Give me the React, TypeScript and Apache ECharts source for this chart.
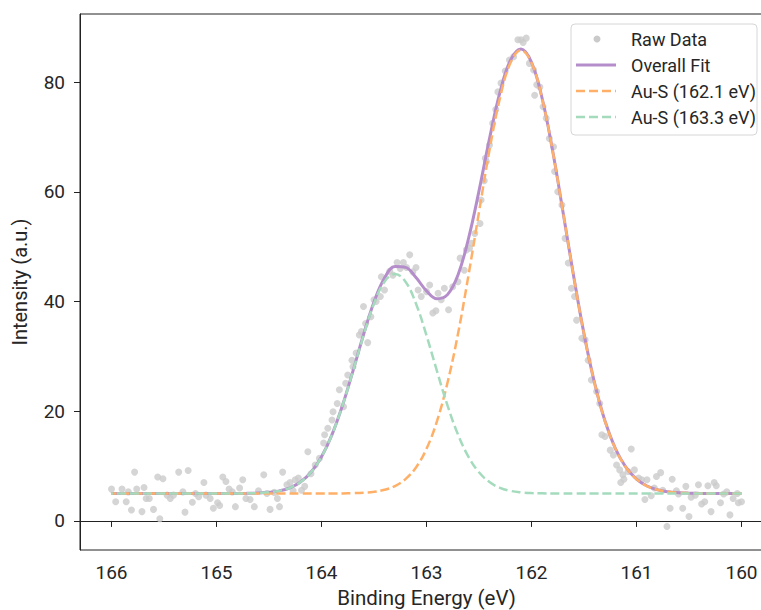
import React, { useEffect, useRef } from "react";
import * as echarts from "echarts";

// Raw XPS data (binding energy eV, intensity a.u.)
const rawE = [
  166.0, 165.96, 165.9, 165.86, 165.84, 165.81, 165.78, 165.76, 165.71, 165.69, 165.67, 165.64, 165.6, 165.56, 165.54,
  165.51, 165.47, 165.44, 165.41, 165.36, 165.32, 165.3, 165.27, 165.23, 165.2, 165.17, 165.12, 165.1, 165.06, 165.03,
  164.99, 164.97, 164.94, 164.91, 164.88, 164.85, 164.82, 164.78, 164.75, 164.72, 164.68, 164.64, 164.6, 164.55, 164.52,
  164.49, 164.45, 164.42, 164.4, 164.37, 164.33, 164.3, 164.27, 164.25, 164.22, 164.19, 164.16, 164.13, 164.1, 164.06,
  164.02, 163.98, 163.97, 163.94, 163.9, 163.89, 163.85, 163.83, 163.79, 163.77, 163.75, 163.71, 163.7, 163.67, 163.64,
  163.62, 163.6, 163.58, 163.56, 163.53, 163.5, 163.48, 163.44, 163.43, 163.4, 163.35, 163.32, 163.28, 163.25, 163.22,
  163.19, 163.16, 163.13, 163.1, 163.08, 163.05, 163.0, 162.97, 162.94, 162.91, 162.89, 162.86, 162.83, 162.79, 162.75,
  162.7, 162.68, 162.64, 162.62, 162.59, 162.57, 162.54, 162.49, 162.48, 162.45, 162.44, 162.43, 162.4, 162.37, 162.34,
  162.32, 162.29, 162.25, 162.21, 162.17, 162.13, 162.1, 162.08, 162.05, 162.02, 161.98, 161.97, 161.95, 161.92, 161.89,
  161.86, 161.83, 161.79, 161.78, 161.75, 161.71, 161.68, 161.65, 161.62, 161.59, 161.57, 161.52, 161.49, 161.46, 161.43,
  161.38, 161.35, 161.33, 161.3, 161.25, 161.22, 161.19, 161.16, 161.15, 161.13, 161.12, 161.08, 161.05, 161.02, 160.98,
  160.95, 160.92, 160.9, 160.86, 160.83, 160.81, 160.77, 160.75, 160.71, 160.68, 160.66, 160.62, 160.6, 160.56, 160.53,
  160.5, 160.48, 160.44, 160.41, 160.38, 160.35, 160.32, 160.29, 160.26, 160.24, 160.2, 160.17, 160.14, 160.11, 160.08,
  160.04, 160.03, 160.0,
];
const rawI = [
  5.8, 3.5, 5.8, 3.5, 5.3, 2.0, 8.9, 5.8, 1.7, 6.1, 4.1, 4.1, 2.1, 8.0, 0.4,
  7.7, 4.7, 4.1, 4.7, 8.9, 5.3, 1.6, 9.2, 3.4, 5.0, 4.4, 7.0, 4.7, 4.1, 2.3,
  3.3, 2.8, 8.0, 7.2, 5.8, 5.3, 2.6, 6.0, 7.5, 4.1, 3.9, 2.6, 5.5, 8.4, 5.0,
  2.1, 5.2, 4.1, 2.6, 8.9, 6.6, 7.0, 5.5, 7.5, 7.8, 5.6, 6.3, 12.6, 8.6, 10.2,
  11.4, 14.2, 15.7, 16.9, 18.4, 19.9, 21.4, 23.9, 20.8, 25.1, 26.6, 29.3, 28.1, 30.6, 33.9,
  34.5, 39.1, 36.0, 32.5, 37.2, 40.3, 40.0, 40.9, 44.5, 42.1, 45.5, 44.8, 47.1, 46.0, 47.1,
  46.2, 48.5, 45.4, 46.2, 42.1, 40.9, 41.8, 43.0, 37.9, 38.3, 41.5, 40.3, 42.4, 38.5, 42.7,
  43.6, 47.9, 45.7, 49.4, 49.7, 50.6, 52.4, 54.2, 58.5, 62.0, 66.1, 65.5, 68.5, 72.5, 75.0,
  78.2, 79.8, 82.0, 84.0, 84.6, 87.7, 87.7, 87.2, 88.0, 83.4, 82.2, 77.6, 79.5, 79.1, 75.5,
  73.4, 69.7, 68.2, 63.7, 60.0, 57.6, 51.5, 47.0, 42.4, 40.9, 36.6, 33.3, 33.0, 29.3, 25.7,
  23.6, 21.4, 15.7, 15.4, 12.9, 12.0, 10.2, 9.3, 7.0, 8.4, 7.6, 9.0, 13.1, 9.3, 7.8,
  7.5, 3.9, 7.5, 4.6, 6.0, 8.1, 8.8, 5.6, -1.0, 2.3, 7.6, 5.5, 4.9, 2.3, 6.3,
  0.8, 4.3, 4.7, 6.6, 3.1, 3.5, 6.4, 1.7, 7.0, 6.4, 3.3, 4.9, 5.3, 1.1, 4.1,
  5.0, 3.3, 3.5,
];

// Fit curves sampled every 0.1 eV from 160.0 to 166.0
const fitE = [
  160.0, 160.1, 160.2, 160.3, 160.4, 160.5, 160.6, 160.7, 160.8, 160.9,
  161.0, 161.1, 161.2, 161.3, 161.4, 161.5, 161.6, 161.7, 161.8, 161.9,
  162.0, 162.1, 162.2, 162.3, 162.4, 162.5, 162.6, 162.7, 162.8, 162.9,
  163.0, 163.1, 163.2, 163.3, 163.4, 163.5, 163.6, 163.7, 163.8, 163.9,
  164.0, 164.1, 164.2, 164.3, 164.4, 164.5, 164.6, 164.7, 164.8, 164.9,
  165.0, 165.1, 165.2, 165.3, 165.4, 165.5, 165.6, 165.7, 165.8, 165.9, 166.0,
];
const overallFit = [
  5.0, 5.0, 5.0, 5.0, 5.02, 5.06, 5.14, 5.31, 5.67, 6.36,
  7.62, 9.75, 13.14, 18.2, 25.2, 34.1, 44.8, 56.3, 67.6, 77.13,
  83.58, 86.01, 83.98, 78.14, 69.68, 60.16, 51.48, 44.84, 41.25, 40.5,
  41.94, 44.35, 46.22, 46.36, 44.27, 39.91, 33.94, 27.36, 21.07, 15.74,
  11.68, 8.86, 7.08, 6.04, 5.48, 5.21, 5.08, 5.03, 5.0, 5.0,
  5.0, 5.0, 5.0, 5.0, 5.0, 5.0, 5.0, 5.0, 5.0, 5.0, 5.0,
];
const peak1621 = [
  5.0, 5.0, 5.0, 5.0, 5.02, 5.06, 5.14, 5.31, 5.67, 6.36,
  7.62, 9.75, 13.14, 18.2, 25.2, 34.1, 44.8, 56.3, 67.6, 77.1,
  83.5, 85.8, 83.5, 77.1, 67.6, 56.3, 44.8, 34.1, 25.2, 18.2,
  13.14, 9.75, 7.62, 6.36, 5.67, 5.31, 5.14, 5.06, 5.02, 5.0,
  5.0, 5.0, 5.0, 5.0, 5.0, 5.0, 5.0, 5.0, 5.0, 5.0,
  5.0, 5.0, 5.0, 5.0, 5.0, 5.0, 5.0, 5.0, 5.0, 5.0, 5.0,
];
const peak1633 = [
  5.0, 5.0, 5.0, 5.0, 5.0, 5.0, 5.0, 5.0, 5.0, 5.0,
  5.0, 5.0, 5.0, 5.0, 5.0, 5.0, 5.0, 5.0, 5.0, 5.03,
  5.08, 5.21, 5.48, 6.04, 7.08, 8.86, 11.68, 15.74, 21.05, 27.3,
  33.8, 39.6, 43.6, 45.0, 43.6, 39.6, 33.8, 27.3, 21.05, 15.74,
  11.68, 8.86, 7.08, 6.04, 5.48, 5.21, 5.08, 5.03, 5.0, 5.0,
  5.0, 5.0, 5.0, 5.0, 5.0, 5.0, 5.0, 5.0, 5.0, 5.0, 5.0,
];

const xTicks = [160, 161, 162, 163, 164, 165, 166];
const yTicks = [0, 20, 40, 60, 80];
const seriesNames = ["Raw Data", "Overall Fit", "Au-S (162.1 eV)", "Au-S (163.3 eV)"];

const FONT = "Roboto";
const TEXT = "#262626";
const C_RAW = "#cacaca";
const C_FIT = "#b58dcb";
const C_P1 = "#ffb068";
const C_P2 = "#a4dbbd";

export default function App() {
  const ref = useRef<HTMLDivElement>(null);

  useEffect(() => {
    const chart = echarts.init(ref.current!, null, { renderer: "svg" });
    const pair = (xs: number[], ys: number[]) => xs.map((x, i) => [x, ys[i]]);

    const legendX = 571;
    const legendY = 24;
    const rowY = [39, 65, 91, 117];
    const legendChildren: any[] = [
      {
        type: "rect",
        shape: { x: legendX, y: legendY, width: 186, height: 111, r: 4 },
        style: { fill: "rgba(255,255,255,0.85)", stroke: "#d6d6d6", lineWidth: 1 },
      },
      { type: "circle", shape: { cx: 597, cy: rowY[0], r: 3.5 }, style: { fill: C_RAW } },
      {
        type: "line",
        shape: { x1: 576, y1: rowY[1], x2: 616, y2: rowY[1] },
        style: { stroke: C_FIT, lineWidth: 3 },
      },
      {
        type: "line",
        shape: { x1: 576, y1: rowY[2], x2: 616, y2: rowY[2] },
        style: { stroke: C_P1, lineWidth: 2.5, lineDash: [9, 4] },
      },
      {
        type: "line",
        shape: { x1: 576, y1: rowY[3], x2: 616, y2: rowY[3] },
        style: { stroke: C_P2, lineWidth: 2.5, lineDash: [9, 4] },
      },
    ];
    seriesNames.forEach((name, i) => {
      legendChildren.push({
        type: "text",
        x: 631,
        y: rowY[i],
        style: {
          text: name,
          fill: TEXT,
          fontSize: 18,
          fontFamily: FONT,
          verticalAlign: "middle",
          align: "left",
        },
      });
    });

    chart.setOption({
      animation: false,
      textStyle: { fontFamily: FONT },
      grid: {
        left: 80,
        top: 14,
        right: 2,
        bottom: 60,
        outerBoundsMode: "none",
        containLabel: false,
        show: true,
        borderColor: "#222",
        borderWidth: 1,
      },
      xAxis: {
        type: "value",
        inverse: true,
        min: 159.7,
        max: 166.3,
        name: "Binding Energy (eV)",
        nameLocation: "middle",
        nameGap: 37,
        nameTextStyle: { fontSize: 20.5, color: TEXT, fontFamily: FONT },
        splitLine: { show: false },
        axisLine: { show: true, lineStyle: { color: "#222", width: 1 } },
        axisTick: { show: true, length: 6, lineStyle: { color: "#222" }, customValues: xTicks },
        axisLabel: { fontSize: 19, color: TEXT, margin: 13, fontFamily: FONT, customValues: xTicks },
      },
      yAxis: {
        type: "value",
        min: -5.3,
        max: 92.4,
        name: "Intensity (a.u.)",
        nameLocation: "middle",
        nameGap: 50,
        nameTextStyle: { fontSize: 20, color: TEXT, fontFamily: FONT },
        splitLine: { show: false },
        axisLine: { show: true, lineStyle: { color: "#222", width: 1 } },
        axisTick: { show: true, length: 6, lineStyle: { color: "#222" }, customValues: yTicks },
        axisLabel: { fontSize: 19, color: TEXT, margin: 15, fontFamily: FONT, customValues: yTicks },
      },
      series: [
        {
          name: seriesNames[0],
          type: "scatter",
          data: pair(rawE, rawI),
          symbolSize: 7,
          itemStyle: { color: C_RAW },
          z: 1,
        },
        {
          name: seriesNames[1],
          type: "line",
          data: pair(fitE, overallFit),
          symbol: "none",
          smooth: 0.4,
          lineStyle: { color: C_FIT, width: 3 },
          z: 2,
        },
        {
          name: seriesNames[2],
          type: "line",
          data: pair(fitE, peak1621),
          symbol: "none",
          smooth: 0.4,
          lineStyle: { color: C_P1, width: 2.5, type: [9, 4] },
          z: 3,
        },
        {
          name: seriesNames[3],
          type: "line",
          data: pair(fitE, peak1633),
          symbol: "none",
          smooth: 0.4,
          lineStyle: { color: C_P2, width: 2.5, type: [9, 4] },
          z: 4,
        },
      ],
      graphic: [{ type: "group", z: 100, children: legendChildren }],
    });

    return () => chart.dispose();
  }, []);

  return (
    <div
      style={{
        position: "fixed",
        left: 0,
        top: 0,
        width: 761,
        height: 610,
        overflow: "hidden",
        background: "#fff",
      }}
    >
      <div ref={ref} style={{ width: 775, height: 610 }} />
    </div>
  );
}
